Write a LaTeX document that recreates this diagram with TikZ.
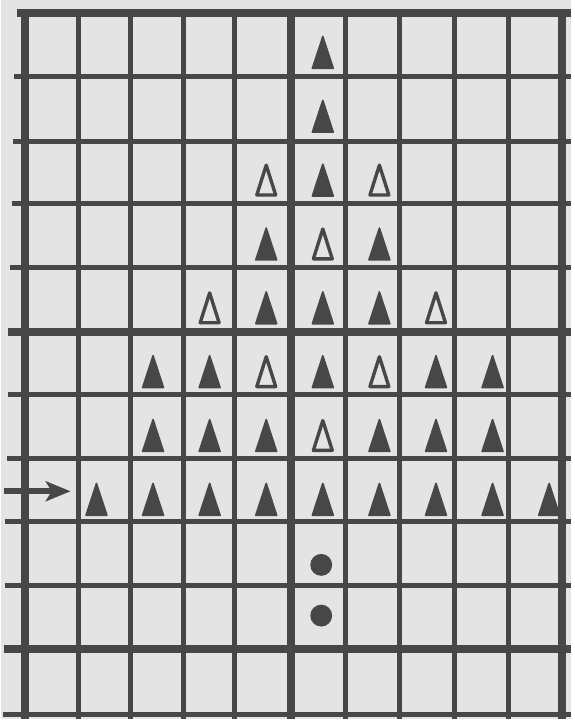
\documentclass[tikz,border=0pt]{standalone}
\usepackage{tikz}
\usetikzlibrary{arrows.meta,calc}
\definecolor{paper}{HTML}{E4E4E4}
\definecolor{inkgray}{HTML}{474747}

\begin{document}
\begin{tikzpicture}[x=1pt,y=-1pt,
  fulltri/.style={fill=inkgray,draw=inkgray,line width=1.6pt,line join=round},
  opentri/.style={fill=paper,draw=inkgray,line width=3.4pt,line join=round},
  thinrule/.style={inkgray,line width=5pt},
  thickrule/.style={inkgray,line width=8pt}]
  \fill[paper] (0,0) rectangle (573,723);
  % stitches
  \foreach \c/\r in {6/1,6/2,6/3,5/4,7/4,5/5,6/5,7/5,3/6,4/6,6/6,8/6,9/6,
                     3/7,4/7,5/7,7/7,8/7,9/7,2/8,3/8,4/8,5/8,6/8,7/8,8/8,9/8,10/8} {
    \pgfmathsetmacro{\tx}{96+56.9*(\c-2)}
    \pgfmathsetmacro{\ty}{4.5+64.2*\r}
    \draw[fulltri] (\tx-10.5,\ty) -- (\tx,\ty-32) -- (\tx+10.5,\ty) -- cycle;
  }
  \foreach \c/\r in {5/3,7/3,6/4,4/5,8/5,5/6,7/6,6/7} {
    \pgfmathsetmacro{\tx}{96+56.9*(\c-2)}
    \pgfmathsetmacro{\ty}{4.5+64.2*\r}
    \draw[opentri] (\tx-9.5,\ty-1) -- (\tx,\ty-31) -- (\tx+9.5,\ty-1) -- cycle;
  }
  \fill[inkgray] (322,568) circle (11);
  \fill[inkgray] (322,619) circle (11);
  % grid
  \foreach \x in {78,130,184,235,346,401,456,510}
    \draw[thinrule] (\x,12) -- (\x,723);
  \foreach \x in {24,292,564}
    \draw[thickrule] (\x,9) -- (\x,723);
  \foreach \y/\s in {77/13,142/12,205/11,269/9,397/7,461/6,524/4,589/4,718/2}
    \draw[thinrule] (\s,\y) -- (573,\y);
  \foreach \y/\s in {13/16,334/7,653/3}
    \draw[thickrule] (\s,\y) -- (573,\y);
  % row marker
  \coordinate (tail) at (3,494);
  \coordinate (tip) at (70,494);
  \draw[inkgray,line width=6pt,-{Stealth[length=25pt,width=20pt,inset=6pt]}] (tail) -- (tip);
\end{tikzpicture}
\end{document}
